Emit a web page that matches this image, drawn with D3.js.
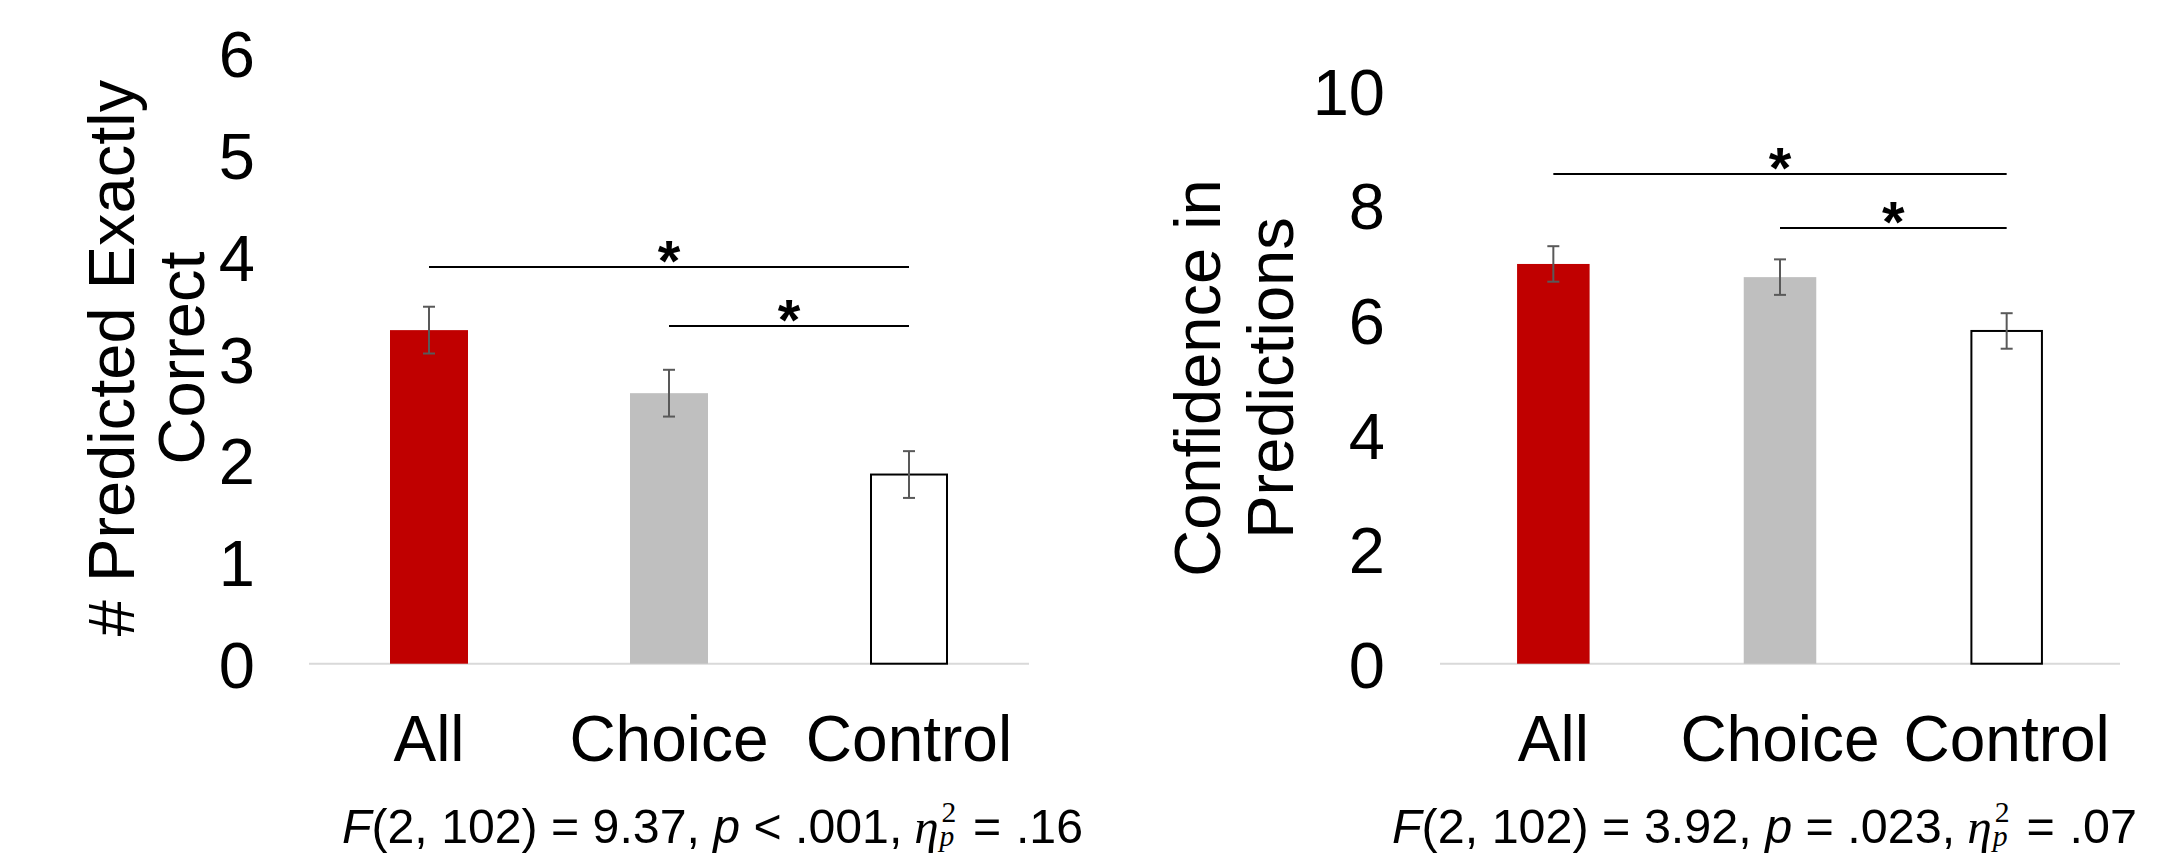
<!DOCTYPE html>
<html>
<head>
<meta charset="utf-8">
<script src="https://cdn.jsdelivr.net/npm/d3@7"></script>
<style>
  html, body { margin: 0; padding: 0; background: #ffffff; }
  svg { display: block; }
  text { font-family: "Liberation Sans", Arial, sans-serif; fill: #000; white-space: pre; }
</style>
</head>
<body>
<svg id="chart" width="2170" height="854"></svg>
<script>
// ---------- data ----------
const categories = ["All", "Choice", "Control"];

const leftMeans = [3.28, 2.66, 1.86];
const leftSE = [0.23, 0.23, 0.23];
const leftTicks = [0, 1, 2, 3, 4, 5, 6];
const leftTitle = ["# Predicted Exactly", "Correct"];
const leftSig = [
  { from: "All", to: "Control", y: 3.90 },
  { from: "Choice", to: "Control", y: 3.32 }
];
const leftStat = { F: "9.37", pRel: "<", p: ".001", eta: ".16" };

const rightMeans = [6.98, 6.75, 5.81];
const rightSE = [0.31, 0.31, 0.31];
const rightTicks = [0, 2, 4, 6, 8, 10];
const rightTitle = ["Confidence in", "Predictions"];
const rightSig = [
  { from: "All", to: "Control", y: 8.55 },
  { from: "Choice", to: "Control", y: 7.61 }
];
const rightStat = { F: "3.92", pRel: "=", p: ".023", eta: ".07" };

const barFills = ["#C00000", "#BFBFBF", "#FFFFFF"];
const barStrokes = ["none", "none", "#000000"];

// ---------- drawing ----------
const svg = d3.select("#chart");
const SANS = '"Liberation Sans", Arial, sans-serif';
const SERIF = '"Liberation Serif", "DejaVu Serif", serif';

function panel(cfg) {
  const g = svg.append("g");
  const x = d3.scaleBand().domain(categories).range([cfg.x0, cfg.x1])
    .paddingInner(cfg.padIn).paddingOuter(cfg.padIn / 2);
  const y = d3.scaleLinear().domain([0, cfg.yMax]).range([cfg.base, cfg.top]);

  // y tick labels
  const ya = g.append("g").attr("transform", `translate(${cfg.tickX},0)`)
    .call(d3.axisLeft(y).tickValues(cfg.ticks).tickSize(0).tickPadding(0).tickFormat(d3.format("d")));
  ya.select(".domain").remove();
  ya.selectAll("text").attr("x", 0).attr("dy", "0.36em")
    .style("font-size", "65px").style("font-family", SANS).attr("fill", "#000");

  // baseline
  g.append("line").attr("x1", x.range()[0]).attr("x2", x.range()[1])
    .attr("y1", y(0)).attr("y2", y(0)).attr("stroke", "#D9D9D9").attr("stroke-width", 2);

  // bars
  const data = categories.map((c, i) => ({ c, m: cfg.means[i], se: cfg.se[i], i }));
  g.selectAll("rect.bar").data(data).join("rect").attr("class", "bar")
    .attr("x", d => x(d.c) + (d.i === 2 ? 1 : 0))
    .attr("width", d => x.bandwidth() - (d.i === 2 ? 2 : 0))
    .attr("y", d => y(d.m))
    .attr("height", d => y(0) - y(d.m))
    .attr("fill", d => barFills[d.i])
    .attr("stroke", d => barStrokes[d.i])
    .attr("stroke-width", 2);

  // error bars
  const eg = g.append("g").attr("stroke", "#595959").attr("stroke-width", 2);
  data.forEach(d => {
    const cx = x(d.c) + x.bandwidth() / 2;
    eg.append("line").attr("x1", cx).attr("x2", cx).attr("y1", y(d.m + d.se)).attr("y2", y(d.m - d.se));
    eg.append("line").attr("x1", cx - 6).attr("x2", cx + 6).attr("y1", y(d.m + d.se)).attr("y2", y(d.m + d.se));
    eg.append("line").attr("x1", cx - 6).attr("x2", cx + 6).attr("y1", y(d.m - d.se)).attr("y2", y(d.m - d.se));
  });

  // significance lines
  cfg.sig.forEach(s => {
    const xa = x(s.from) + x.bandwidth() / 2;
    const xb = x(s.to) + x.bandwidth() / 2;
    g.append("line").attr("x1", xa).attr("x2", xb).attr("y1", y(s.y)).attr("y2", y(s.y))
      .attr("stroke", "#000").attr("stroke-width", 2);
    g.append("text").attr("x", (xa + xb) / 2).attr("y", y(s.y) + 14)
      .attr("text-anchor", "middle").style("font-size", "58px").style("font-weight", "bold").text("*");
  });

  // category labels
  const xa = g.append("g").attr("transform", `translate(0,${cfg.base})`)
    .call(d3.axisBottom(x).tickSize(0).tickPadding(0));
  xa.select(".domain").remove();
  xa.selectAll("text").attr("y", cfg.catY - cfg.base).attr("dy", 0)
    .style("font-size", "64px").style("font-family", SANS).attr("fill", "#000");

  // y title
  const tg = g.append("text").attr("text-anchor", "middle")
    .attr("transform", `rotate(-90)`)
    .style("font-size", cfg.titleSize + "px");
  cfg.title.forEach((t, i) => {
    tg.append("tspan").attr("x", -cfg.titleCY).attr("y", cfg.titleX[i]).text(t);
  });

  // stats line (laid out at origin, then fitted to the target span)
  const sg = g.append("g");
  const st = sg.append("text").attr("x", 0).attr("y", 0).style("font-size", "49px");
  st.append("tspan").style("font-style", "italic").text("F");
  st.append("tspan").text(`(2, 102) = ${cfg.stat.F}, `);
  st.append("tspan").style("font-style", "italic").text("p");
  st.append("tspan").text(` ${cfg.stat.pRel} ${cfg.stat.p},`);
  const w = st.node().getComputedTextLength();
  const ex = w + 12;
  const eta = sg.append("text").attr("x", ex).attr("y", 0)
    .style("font-family", SERIF).style("font-style", "italic").style("font-size", "50px").text("η");
  const ew = eta.node().getComputedTextLength();
  const sup = sg.append("text").attr("x", ex + ew + 3).attr("y", -21)
    .style("font-family", SERIF).style("font-size", "30px").text("2");
  sg.append("text").attr("x", ex + ew + 1).attr("y", 3)
    .style("font-family", SERIF).style("font-style", "italic").style("font-size", "30px").text("p");
  const sw = Math.max(sup.node().getComputedTextLength(), 15);
  const eqX = ex + ew + 3 + sw + 17;
  const eq = sg.append("text").attr("x", eqX).attr("y", 0)
    .style("font-family", SANS).style("font-size", "49px").text("=");
  const eqW = eq.node().getComputedTextLength();
  const val = sg.append("text").attr("x", eqX + eqW + 15).attr("y", 0)
    .style("font-family", SANS).style("font-size", "49px").text(cfg.stat.eta);
  const total = eqX + eqW + 15 + val.node().getComputedTextLength();
  const s = (cfg.statX1 - cfg.statX) / total;
  sg.attr("transform", `translate(${cfg.statX},${cfg.statY}) scale(${s})`);
}

panel({
  x0: 309, x1: 1029, padIn: 0.675, yMax: 6, base: 663.7, top: 53.5,
  ticks: leftTicks, tickX: 255, means: leftMeans, se: leftSE, sig: leftSig,
  catY: 761, title: leftTitle, titleSize: 65, titleCY: 358, titleX: [134, 204],
  statX: 342, statX1: 1083, statY: 843, stat: leftStat
});

panel({
  x0: 1440, x1: 2120, padIn: 0.68, yMax: 10, base: 663.7, top: 91,
  ticks: rightTicks, tickX: 1385, means: rightMeans, se: rightSE, sig: rightSig,
  catY: 761, title: rightTitle, titleSize: 65, titleCY: 378, titleX: [1220, 1293],
  statX: 1392, statX1: 2137, statY: 843, stat: rightStat
});
</script>
</body>
</html>
